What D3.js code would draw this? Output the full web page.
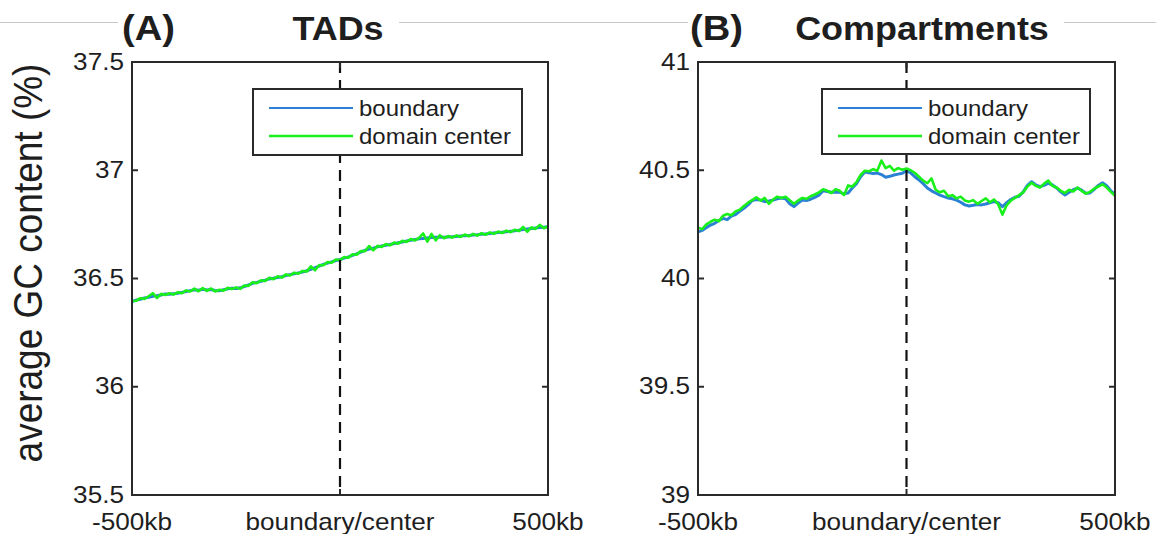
<!DOCTYPE html>
<html>
<head>
<meta charset="utf-8">
<script src="https://cdn.jsdelivr.net/npm/d3@7"></script>
<style>
  body { margin: 0; background: #fff; }
  svg { display: block; }
  text { font-family: "Liberation Sans", Arial, Helvetica, sans-serif; fill: #1e1e1e; }
</style>
</head>
<body>
<svg id="chart" width="1156" height="534"></svg>
<script>
// Distance from the boundary / domain centre, in kb (10 kb bins)
const positions = d3.range(-500, 501, 10);

// TADs: average GC content (%) around boundaries and around domain centres
const tadBoundary = [
  36.393, 36.400, 36.404, 36.410, 36.413, 36.418, 36.420, 36.424, 36.428, 36.427,
  36.430, 36.432, 36.436, 36.440, 36.444, 36.448, 36.446, 36.450, 36.447, 36.449,
  36.445, 36.443, 36.448, 36.452, 36.455, 36.454, 36.457, 36.463, 36.470, 36.478,
  36.482, 36.487, 36.492, 36.498, 36.501, 36.505, 36.508, 36.514, 36.518, 36.522,
  36.526, 36.530, 36.536, 36.542, 36.550, 36.557, 36.565, 36.571, 36.577, 36.583,
  36.588, 36.594, 36.600, 36.607, 36.614, 36.622, 36.630, 36.636, 36.640, 36.646,
  36.650, 36.654, 36.657, 36.661, 36.665, 36.669, 36.673, 36.677, 36.680, 36.683,
  36.685, 36.687, 36.689, 36.690, 36.690, 36.691, 36.692, 36.693, 36.694, 36.696,
  36.698, 36.699, 36.701, 36.702, 36.704, 36.706, 36.708, 36.710, 36.712, 36.714,
  36.716, 36.718, 36.720, 36.723, 36.726, 36.729, 36.731, 36.733, 36.735, 36.737,
  36.739
];
const tadCenter = [
  36.396, 36.397, 36.409, 36.406, 36.418, 36.432, 36.410, 36.429, 36.424, 36.432,
  36.426, 36.437, 36.432, 36.445, 36.440, 36.453, 36.441, 36.456, 36.443, 36.454,
  36.440, 36.448, 36.444, 36.457, 36.451, 36.459, 36.452, 36.468, 36.466, 36.483,
  36.478, 36.492, 36.488, 36.503, 36.497, 36.510, 36.504, 36.519, 36.514, 36.527,
  36.522, 36.535, 36.532, 36.556, 36.538, 36.562, 36.561, 36.576, 36.573, 36.588,
  36.584, 36.599, 36.596, 36.612, 36.610, 36.627, 36.626, 36.650, 36.630, 36.651,
  36.646, 36.659, 36.653, 36.666, 36.661, 36.674, 36.669, 36.682, 36.676, 36.688,
  36.708, 36.670, 36.706, 36.676, 36.700, 36.686, 36.696, 36.689, 36.699, 36.692,
  36.703, 36.695, 36.706, 36.698, 36.709, 36.702, 36.713, 36.706, 36.717, 36.710,
  36.721, 36.714, 36.725, 36.719, 36.738, 36.716, 36.736, 36.729, 36.748, 36.732,
  36.741
];

// Compartments: average GC content (%) around boundaries and around domain centres
const compBoundary = [
  40.215, 40.222, 40.235, 40.247, 40.255, 40.268, 40.278, 40.272, 40.288, 40.295,
  40.310, 40.324, 40.340, 40.360, 40.365, 40.362, 40.355, 40.358, 40.362, 40.368,
  40.372, 40.368, 40.345, 40.332, 40.348, 40.362, 40.360, 40.366, 40.375, 40.385,
  40.405, 40.402, 40.398, 40.400, 40.398, 40.392, 40.395, 40.418, 40.438, 40.470,
  40.492, 40.488, 40.485, 40.487, 40.480, 40.468, 40.472, 40.478, 40.482, 40.486,
  40.498, 40.488, 40.470, 40.455, 40.438, 40.418, 40.405, 40.395, 40.385, 40.378,
  40.372, 40.368, 40.362, 40.352, 40.340, 40.335, 40.338, 40.342, 40.340, 40.344,
  40.350, 40.355, 40.350, 40.332, 40.350, 40.365, 40.375, 40.380, 40.400, 40.430,
  40.447, 40.432, 40.424, 40.430, 40.440, 40.432, 40.418, 40.400, 40.386, 40.398,
  40.410, 40.417, 40.408, 40.394, 40.395, 40.412, 40.430, 40.442, 40.428, 40.405,
  40.390
];
const compCenter = [
  40.235, 40.228, 40.250, 40.262, 40.272, 40.265, 40.290, 40.298, 40.292, 40.310,
  40.318, 40.335, 40.350, 40.362, 40.375, 40.360, 40.372, 40.345, 40.365, 40.378,
  40.372, 40.378, 40.362, 40.345, 40.360, 40.372, 40.368, 40.380, 40.388, 40.398,
  40.412, 40.405, 40.395, 40.412, 40.405, 40.385, 40.430, 40.425, 40.445, 40.478,
  40.498, 40.495, 40.505, 40.498, 40.545, 40.510, 40.520, 40.498, 40.510, 40.502,
  40.508, 40.500, 40.488, 40.470, 40.452, 40.440, 40.462, 40.410, 40.398, 40.405,
  40.380, 40.385, 40.370, 40.378, 40.360, 40.355, 40.362, 40.345, 40.358, 40.370,
  40.352, 40.365, 40.342, 40.295, 40.338, 40.360, 40.372, 40.385, 40.398, 40.425,
  40.442, 40.428, 40.420, 40.438, 40.452, 40.428, 40.420, 40.405, 40.395, 40.410,
  40.402, 40.420, 40.405, 40.392, 40.400, 40.415, 40.425, 40.435, 40.420, 40.400,
  40.382
];

const tadTicks = [35.5, 36, 36.5, 37, 37.5];
const compTicks = [39, 39.5, 40, 40.5, 41];
const xTicks = [-500, 0, 500];
const xTickLabels = ["-500kb", "boundary/center", "500kb"];
const seriesNames = ["boundary", "domain center"];
const seriesColors = ["#2b82d4", "#19f019"];
const yAxisTitle = "average GC content (%)";

const svg = d3.select("#chart");
const STRETCH = 1.09;   // glyphs are set slightly wide

function label(parent, x, y, str, size, opts = {}) {
  return parent.append("text")
    .attr("transform", `translate(${x},${y}) scale(${STRETCH},1)` + (opts.rotate ? ` rotate(${opts.rotate})` : ""))
    .attr("font-size", size)
    .attr("font-weight", opts.bold ? "bold" : null)
    .attr("text-anchor", opts.anchor || "start")
    .attr("dominant-baseline", opts.baseline || null)
    .text(str);
}

const tickFmt = d => (Number.isInteger(d) ? d3.format("d")(d) : d3.format(".1f")(d));

// thin grey rule across the top, broken around the panel headings
const topRule = [[0, 118], [399, 688], [1064, 1156]];
svg.append("g").selectAll("line").data(topRule).join("line")
  .attr("x1", d => d[0]).attr("x2", d => d[1])
  .attr("y1", 22.5).attr("y2", 22.5)
  .attr("stroke", "#c8c8c8").attr("stroke-width", 1);

const panels = [
  { tag: "(A)", title: "TADs", left: 132, right: 548, tagX: 122, titleX: 338,
    domain: [35.5, 37.5], ticks: tadTicks,
    series: [tadBoundary, tadCenter], legend: { x: 253, y: 89, w: 269, h: 66 } },
  { tag: "(B)", title: "Compartments", left: 698, right: 1115, tagX: 690, titleX: 922,
    domain: [39, 41], ticks: compTicks,
    series: [compBoundary, compCenter], legend: { x: 822, y: 89, w: 268, h: 65 } }
];

const plotTop = 62, plotBottom = 495;

panels.forEach(p => {
  const x = d3.scaleLinear().domain([-500, 500]).range([p.left, p.right]);
  const y = d3.scaleLinear().domain(p.domain).range([plotBottom, plotTop]);
  const g = svg.append("g");

  // headings
  label(g, p.tagX, 40, p.tag, 35, { bold: true });
  label(g, p.titleX, 40, p.title, 33, { bold: true, anchor: "middle" });

  // series
  const line = d3.line().x((d, i) => x(positions[i])).y(d => y(d));
  p.series.forEach((s, k) => {
    g.append("path").datum(s)
      .attr("fill", "none")
      .attr("stroke", seriesColors[k])
      .attr("stroke-width", k === 0 ? 3 : 2.6)
      .attr("stroke-linejoin", "round")
      .attr("d", line);
  });

  // dashed marker at the boundary / centre
  g.append("line")
    .attr("x1", x(0)).attr("x2", x(0))
    .attr("y1", plotTop).attr("y2", plotBottom)
    .attr("stroke", "#111").attr("stroke-width", 2.2)
    .attr("stroke-dasharray", "11,7");

  // frame
  g.append("rect")
    .attr("x", p.left).attr("y", plotTop)
    .attr("width", p.right - p.left).attr("height", plotBottom - plotTop)
    .attr("fill", "none").attr("stroke", "#2a2a2a").attr("stroke-width", 2);

  // inward ticks on all sides
  const tickLen = 6;
  g.selectAll("line.yl").data(p.ticks).join("line").attr("class", "yl")
    .attr("x1", p.left).attr("x2", p.left + tickLen)
    .attr("y1", d => y(d)).attr("y2", d => y(d))
    .attr("stroke", "#2a2a2a").attr("stroke-width", 2);
  g.selectAll("line.yr").data(p.ticks).join("line").attr("class", "yr")
    .attr("x1", p.right).attr("x2", p.right - tickLen)
    .attr("y1", d => y(d)).attr("y2", d => y(d))
    .attr("stroke", "#2a2a2a").attr("stroke-width", 2);
  g.selectAll("line.xb").data(xTicks).join("line").attr("class", "xb")
    .attr("x1", d => x(d)).attr("x2", d => x(d))
    .attr("y1", plotBottom).attr("y2", plotBottom - tickLen)
    .attr("stroke", "#2a2a2a").attr("stroke-width", 2);
  g.selectAll("line.xt").data(xTicks).join("line").attr("class", "xt")
    .attr("x1", d => x(d)).attr("x2", d => x(d))
    .attr("y1", plotTop).attr("y2", plotTop + tickLen)
    .attr("stroke", "#2a2a2a").attr("stroke-width", 2);

  // tick labels
  p.ticks.forEach(t => label(g, p.left - 8, y(t) - 1, tickFmt(t), 24, { anchor: "end", baseline: "central" }));
  xTicks.forEach((t, i) => label(g, x(t), 530, xTickLabels[i], 24, { anchor: "middle" }));

  // legend
  const L = p.legend;
  const lg = g.append("g");
  lg.append("rect").attr("x", L.x).attr("y", L.y).attr("width", L.w).attr("height", L.h)
    .attr("fill", "#fff").attr("stroke", "#2a2a2a").attr("stroke-width", 2);
  seriesNames.forEach((name, k) => {
    const ly = L.y + 19 + k * 28;
    lg.append("line")
      .attr("x1", L.x + 16).attr("x2", L.x + 100)
      .attr("y1", ly).attr("y2", ly)
      .attr("stroke", seriesColors[k]).attr("stroke-width", k === 0 ? 2 : 2.4);
    label(lg, L.x + 106, ly + 7.5, name, 22);
  });
});

// shared y-axis title
label(svg, 42, 263, yAxisTitle, 37, { anchor: "middle", rotate: -90 });
</script>
</body>
</html>
